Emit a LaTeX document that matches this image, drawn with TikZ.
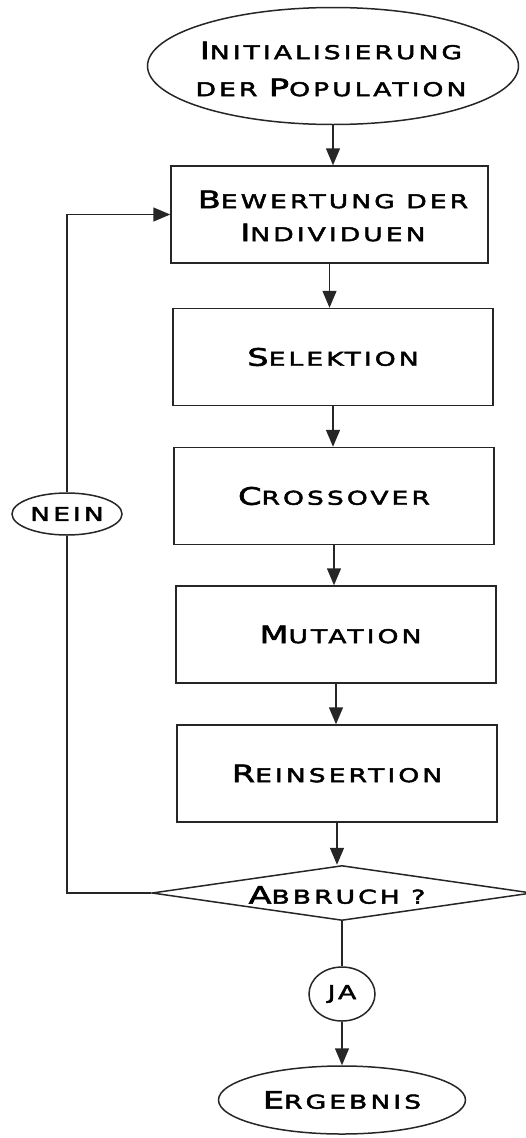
\documentclass[tikz,border=0pt]{standalone}
\usepackage{fontspec}
\usetikzlibrary{shapes.geometric,arrows.meta}
\newfontfamily\dfont[FakeStretch=1.4,LetterSpace=16,FakeBold=2.5]{DejaVu Sans}
\newcommand\bc[1]{{\fontsize{24}{24}\selectfont #1}}
\tikzset{
  every node/.style={font=\dfont\fontsize{19}{35}\selectfont},
  ln/.style={draw=black!85, line width=1.5pt},
  arr/.style={ln, -{Triangle[length=17pt,width=14pt]}},
  stepbox/.style={ln, rectangle, minimum width=320pt, minimum height=97pt, inner sep=0pt},
  oval/.style={ln, ellipse, fill=white, inner sep=0pt},
  lbl/.style={inner sep=0pt, align=center}
}
\begin{document}
\begin{tikzpicture}[x=1pt,y=-1pt]
\useasboundingbox (0,0) rectangle (526,1138);
\node[oval, minimum width=371pt, minimum height=117pt] (init) at (333,66) {};
\node[lbl, font=\dfont\fontsize{19}{37}\selectfont] (initt) at (331,69) {\bc{I}NITIALISIERUNG\\DER \bc{P}OPULATION};
\node[stepbox, minimum width=317pt] (b1) at (329.5,214.5) {};
\node[lbl, font=\dfont\fontsize{19}{33}\selectfont] (b1t) at (333,216) {\bc{B}EWERTUNG DER\\\bc{I}NDIVIDUEN};
\node[stepbox] (b2) at (333,357) {\bc{S}ELEKTION};
\node[stepbox] (b3) at (334,496) {\bc{C}ROSSOVER};
\node[stepbox] (b4) at (336,634.5) {\hspace{9pt}\bc{M}UTATION};
\node[stepbox] (b5) at (337,773.5) {\bc{R}EINSERTION};
\node[ln, diamond, minimum width=380pt, minimum height=55pt, inner sep=0pt] (dec) at (342,893) {};
\node[lbl] (dect) at (337,895) {\bc{A}BBRUCH ?};
\node[oval, minimum width=66pt, minimum height=54pt] (ja) at (342,994) {JA};
\node[oval, minimum width=247pt, minimum height=68pt] (erg) at (342,1100) {\bc{E}RGEBNIS};
\draw[arr] (init.south) -- (init.south |- b1.north);
\draw[arr] (b1.south) -- (b1.south |- b2.north);
\draw[arr] (b2.south) -- (b2.south |- b3.north);
\draw[arr] (b3.south) -- (b3.south |- b4.north);
\draw[arr] (b4.south) -- (b4.south |- b5.north);
\draw[arr] (b5.south) -- (b5.south |- dec.north);
\draw[ln] (dec.south) -- (ja.north);
\draw[arr] (ja.south) -- (erg.north);
\node[oval, minimum width=110pt, minimum height=42pt] (nein) at (67,514) {NEIN};
\draw[ln] (dec.west) -| (nein.south);
\draw[arr] (nein.north) |- (b1.west);
\end{tikzpicture}
\end{document}
